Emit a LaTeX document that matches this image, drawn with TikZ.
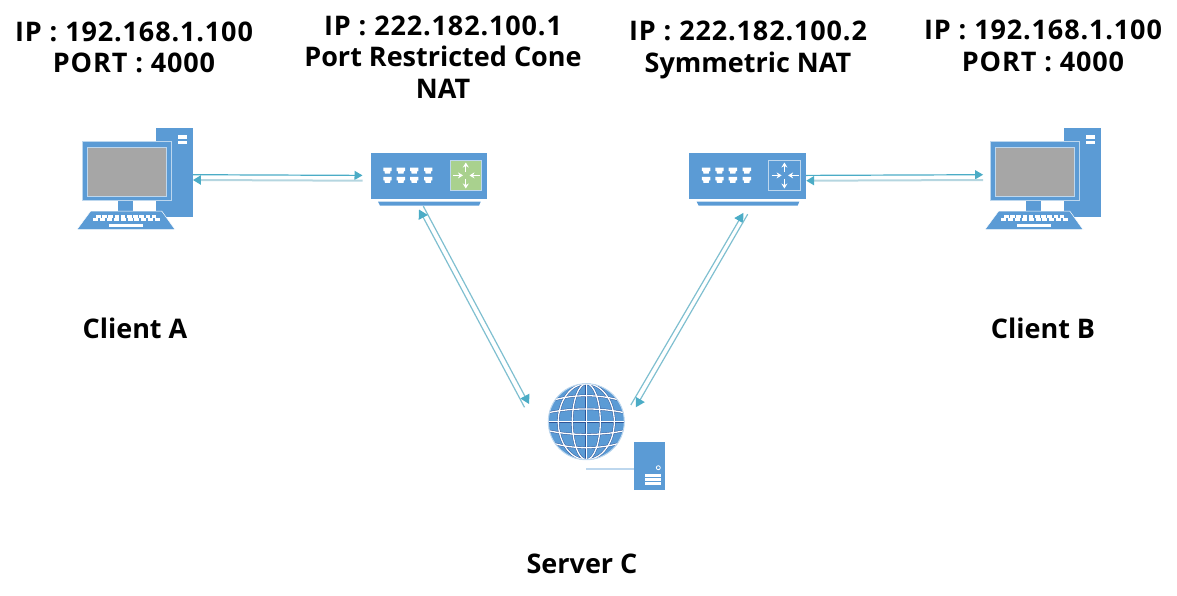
\documentclass[tikz,border=0pt]{standalone}
\usepackage{fontspec}
\setmainfont{Open Sans}
\usetikzlibrary{arrows.meta}
\definecolor{iconblue}{HTML}{5B9BD5}
\definecolor{iconpale}{HTML}{BDD7EE}
\definecolor{screengray}{HTML}{A6A6A6}
\definecolor{routergreen}{HTML}{A9D18E}
\definecolor{wireteal}{HTML}{4BACC6}
\definecolor{wirepale}{HTML}{B5D6E0}
\definecolor{wirediag}{HTML}{7FBFD0}
\definecolor{globeedge}{HTML}{2F5597}
\newcommand{\addrline}[1]{{\addfontfeatures{LetterSpace=3.2}#1}}
\tikzset{
    lbl/.style={font=\fontsize{27}{31.5}\selectfont\bfseries, align=center, inner sep=0pt},
    iconbox/.style={inner sep=0pt, minimum width=#1},
    wirefwd/.style={draw=wireteal, line width=1.2pt, -{Triangle[length=8pt,width=9pt]}},
    wireback/.style={draw=wirepale, line width=2pt, -{Triangle[length=8pt,width=9pt,color=wireteal]}},
    wirecross/.style={draw=wirediag, line width=1.2pt, -{Triangle[length=9pt,width=10pt,color=wireteal]}},
    portarrow/.style={white, line width=1.3pt, -{Stealth[length=5pt,width=6pt]}},
}
\begin{document}
\begin{tikzpicture}[x=1pt, y=-1pt]
    \useasboundingbox (0,0) rectangle (1177,595);

    % the two computers
    \foreach \sx/\nm in {0/clientA, 908/clientB} {
        \begin{scope}[shift={(\sx,0)}]
            \fill[iconblue] (156,128) rectangle (192.7,217);
            \fill[white] (178.3,135) rectangle (186.7,139);
            \fill[white] (178.3,140.7) rectangle (186.7,144);
            \fill[iconblue] (118,200) rectangle (133,211);
            \draw[fill=iconblue, draw=iconpale, line width=1pt] (82,141) rectangle (171.7,200.7);
            \draw[fill=screengray, draw=iconpale, line width=1pt] (87,147) rectangle (166,196);
            \draw[fill=iconblue, draw=white, line width=0.5pt] (90.7,211) -- (161.7,211) -- (175,229.5) -- (77,229.5) -- cycle;
            \foreach \k in {0,...,9} {
                \fill[white] (96+6.2*\k,215) rectangle ++(4.6,2.6);
                \fill[white] (93.3+6.85*\k,218.4) rectangle ++(5,2.6);
            }
            \fill[white] (109.3,224.3) rectangle (142.7,226.7);
            \node[iconbox=115.7, minimum height=101] (\nm) at (134.85,178.5) {};
        \end{scope}
    }

    % the two routers
    \foreach \sx/\sq/\nm in {0/routergreen/natA, 318.6/iconblue/natB} {
        \begin{scope}[shift={(\sx,0)}]
            \fill[iconblue] (370.7,152.7) rectangle (487.3,199);
            \fill[iconblue] (378,201.7) -- (480.7,201.7) -- (479,205.7) -- (380,205.7) -- cycle;
            \foreach \px in {383.3,396.7,410,424} {
                \foreach \py in {167.7,176.9} {
                    \fill[white] (\px,\py) -- ++(8.4,0) -- ++(0,3.4) -- ++(-1.2,0) -- ++(-0.4,2.6) -- ++(-5.2,0) -- ++(-0.4,-2.6) -- ++(-1.2,0) -- cycle;
                }
            }
            \draw[fill=\sq, draw=iconpale, line width=1pt] (450,160.7) rectangle (481.7,190);
            \draw[portarrow] (465.8,172) -- (465.8,162.5);
            \draw[portarrow] (465.8,178.5) -- (465.8,188.5);
            \draw[portarrow] (453,175.4) -- (463,175.4);
            \draw[portarrow] (480,175.4) -- (469.5,175.4);
            \node[iconbox=116.6, minimum height=53] (\nm) at (429,179.2) {};
        \end{scope}
    }

    % the server and its globe
    \draw[iconpale, line width=2pt] (586,469.3) -- (634.3,469.3);
    \fill[iconblue] (634.3,442) rectangle (665,490);
    \draw[white, line width=0.8pt] (658.3,467.7) circle (2);
    \foreach \py in {474,478.2,482.4} {\fill[white] (645,\py) rectangle ++(16,2.8);}

    \begin{scope}[shift={(586.3,421.7)}]
        \fill[iconblue] (0,0) circle (38);
        \begin{scope}
            \clip (0,0) circle (38);
            \foreach \wd/\col in {2.2/globeedge, 1.3/white} {
                \begin{scope}[line width=\wd pt, draw=\col]
                    \draw (0,-38) -- (0,38);
                    \draw (0,0) ellipse (14 and 38);
                    \draw (0,0) ellipse (28 and 38);
                    \draw (-38,0) -- (38,0);
                    \foreach \s in {-1,1} {
                        \draw (-38,{\s*9}) .. controls (-15,{\s*14}) and (15,{\s*14}) .. (38,{\s*9});
                        \draw (-38,{\s*20}) .. controls (-15,{\s*28}) and (15,{\s*28}) .. (38,{\s*20});
                    }
                \end{scope}
            }
        \end{scope}
        \draw[iconpale, line width=1pt] (0,0) circle (38);
    \end{scope}
    \node[circle, inner sep=0pt, minimum size=76pt] (globe) at (586.3,421.7) {};

    % connectors
    \draw[wirefwd] ([shift={(0,-3.8)}]clientA.east) -- ([shift={(-8,-3.8)}]natA.west);
    \draw[wireback] ([shift={(-8,1.5)}]natA.west) -- ([shift={(0,1.5)}]clientA.east);
    \draw[wirefwd] ([shift={(0.1,-3.8)}]natB.east) -- ([shift={(-1.7,-3.8)}]clientB.west);
    \draw[wireback] ([shift={(-1.7,1.5)}]clientB.west) -- ([shift={(0.1,1.5)}]natB.east);
    \draw[wirecross] ([shift={(-5.7,0.3)}]natA.south) -- ([shift={(-19,-17.7)}]globe.west);
    \draw[wirecross] ([shift={(-23.6,-14.4)}]globe.west) -- ([shift={(-10,3.6)}]natA.south);
    \draw[wirecross] ([shift={(82.7,-16.7)}]globe.west) -- ([shift={(-4.3,7)}]natB.south);
    \draw[wirecross] ([shift={(0.1,8.3)}]natB.south) -- ([shift={(87.7,-14.4)}]globe.west);

    % labels
    \node[lbl] (labelA) at (134,47.5) {\addrline{IP : 192.168.1.100}\\\addrline{PORT : 4000}};
    \node[lbl] (labelNatA) at (443,57) {\addrline{IP : 222.182.100.1}\\Port Restricted Cone\\NAT};
    \node[lbl] (labelNatB) at (748,50) {\addrline{IP : 222.182.100.2}\\Symmetric NAT};
    \node[lbl] (labelB) at (1043,46) {\addrline{IP : 192.168.1.100}\\\addrline{PORT : 4000}};
    \node[lbl] (nameA) at (135,328) {Client A};
    \node[lbl] (nameB) at (1043,328) {Client B};
    \node[lbl] (nameC) at (582,564) {Server C};
\end{tikzpicture}
\end{document}
